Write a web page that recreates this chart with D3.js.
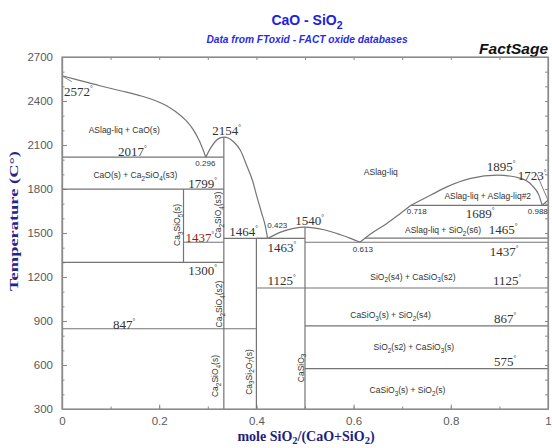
<!DOCTYPE html>
<html>
<head>
<meta charset="utf-8">
<script src="https://cdn.jsdelivr.net/npm/d3@7"></script>
<style>
  body { margin: 0; background: #fff; }
  svg { display: block; }
</style>
</head>
<body>
<svg id="chart" width="552" height="448"></svg>
<script>
// ---- axis ticks -------------------------------------------------------
const xTicks = [0, 0.2, 0.4, 0.6, 0.8, 1];
const xTickLabels = ["0", "0.2", "0.4", "0.6", "0.8", "1"];
const yTicks = [300, 600, 900, 1200, 1500, 1800, 2100, 2400, 2700];
const yTickLabels = ["300", "600", "900", "1200", "1500", "1800", "2100", "2400", "2700"];

// ---- liquidus curves, [mole fraction SiO2, T in C] ------------------
const liqCaO = [[0, 2572], [0.03, 2546], [0.078, 2504], [0.12, 2470], [0.16, 2437],
  [0.19, 2405], [0.215, 2368], [0.235, 2325], [0.255, 2268], [0.27, 2205],
  [0.283, 2125], [0.296, 2017]];
const liqC2S = [[0.296, 2017], [0.305, 2075], [0.315, 2122], [0.325, 2149], [0.334, 2154],
  [0.342, 2148], [0.353, 2122], [0.367, 2064], [0.381, 1952], [0.392, 1858],
  [0.401, 1748], [0.41, 1645], [0.4186, 1543], [0.423, 1463]];
const liqCS = [[0.423, 1463], [0.45, 1506], [0.477, 1532], [0.5, 1540], [0.539, 1522],
  [0.573, 1488], [0.595, 1462], [0.613, 1437]];
const liqSiO2 = [[0.613, 1437], [0.64, 1505], [0.669, 1566], [0.695, 1630], [0.718, 1689]];
const gapDome = [[0.718, 1689], [0.759, 1759], [0.793, 1816], [0.841, 1872], [0.896, 1895],
  [0.944, 1872], [0.968, 1822], [0.981, 1760], [0.988, 1689]];
const liqCristobalite = [[0.988, 1689], [1, 1723]];

// ---- invariant and transition isotherms: [x from, x to, T] ----------
const isotherms = [
  [0, 0.333, 2017], [0, 0.333, 1799], [0.25, 0.333, 1437], [0, 0.333, 1300],
  [0, 0.4, 847], [0.333, 0.423, 1464], [0.4, 0.5, 1463], [0.4, 1, 1125],
  [0.5, 1, 1437], [0.623, 1, 1465], [0.718, 1, 1689], [0.5, 1, 867], [0.5, 1, 575]
];

// ---- stoichiometric compounds: [x, T top, T bottom] -----------------
const compounds = [[0.25, 1799, 1300], [0.333, 2154, 300], [0.4, 1464, 300], [0.5, 1540, 300]];

// ---- leader lines from labels to points --------------------------------
const leaders = [[[0, 2572], [0.02, 2532]], [[0.977, 1900], [1, 1723]]];

// ---- temperature labels: [text, x, T, colour] -----------------------
const tempLabels = [
  ["2572", 0.004, 2434], ["2154", 0.309, 2168], ["2017", 0.115, 2025],
  ["1799", 0.26, 1807], ["1437", 0.254, 1439, "#8b1e1e"], ["1300", 0.26, 1214],
  ["1464", 0.344, 1480], ["1540", 0.48, 1555], ["1463", 0.423, 1370],
  ["1125", 0.423, 1145], ["847", 0.105, 845], ["1895", 0.874, 1923],
  ["1723", 0.938, 1861], ["1689", 0.831, 1602], ["1465", 0.878, 1493],
  ["1437", 0.88, 1343], ["1125", 0.887, 1145], ["867", 0.889, 886], ["575", 0.889, 593]
];

// ---- composition labels at invariant points -------------------------
const compLabels = [
  ["0.296", 0.295, 1957], ["0.423", 0.443, 1534], ["0.613", 0.619, 1370],
  ["0.718", 0.73, 1630], ["0.988", 0.979, 1630]
];

// ---- phase field labels ("_n" marks a subscript) ----------------------
const phaseLabels = [
  ["ASlag-liq + CaO(s)", 0.128, 2182],
  ["CaO(s) + Ca_2SiO_4(s3)", 0.151, 1875],
  ["ASlag-liq", 0.656, 1895],
  ["ASlag-liq + ASlag-liq#2", 0.876, 1732],
  ["ASlag-liq + SiO_2(s6)", 0.784, 1500],
  ["SiO_2(s4) + CaSiO_3(s2)", 0.722, 1180],
  ["CaSiO_3(s) + SiO_2(s4)", 0.676, 920],
  ["SiO_2(s2) + CaSiO_3(s)", 0.724, 702],
  ["CaSiO_3(s) + SiO_2(s)", 0.711, 409]
];

// ---- vertical compound labels -----------------------------------------
const compoundLabels = [
  ["Ca_3SiO_5(s)", 0.237, 1555], ["Ca_2SiO_4(s3)", 0.322, 1623],
  ["Ca_2SiO_4(s2)", 0.324, 1016], ["Ca_2SiO_4(s)", 0.315, 525],
  ["Ca_3Si_2O_7(s)", 0.384, 552], ["CaSiO_3", 0.491, 580]
];

// ---------------------------------------------------------------------
const M = { left: 62, right: 548, top: 57, bottom: 409 };
const x = d3.scaleLinear().domain([0, 1]).range([M.left, M.right]);
const y = d3.scaleLinear().domain([300, 2700]).range([M.bottom, M.top]);
const svg = d3.select("#chart");

const LINE = "#747474", FRAME = "#8a8a8a";
const SANS = "Arial, 'Liberation Sans', sans-serif";
const SERIF = "'Times New Roman', 'Liberation Serif', serif";

// text with "_n" subscripts
function richText(sel, str, size, shift = 0.3) {
  const parts = str.split(/(_\d)/).filter(s => s.length);
  let sub = false;
  parts.forEach(p => {
    if (p[0] === "_") {
      sel.append("tspan").attr("dy", size * shift).attr("font-size", size * 0.75).text(p.slice(1));
      sub = true;
    } else {
      const t = sel.append("tspan").text(p);
      if (sub) { t.attr("dy", -size * shift); sub = false; }
    }
  });
}

// titles
const title = svg.append("text").attr("x", 307).attr("y", 25).attr("text-anchor", "middle")
  .attr("font-family", SANS).attr("font-weight", "bold").attr("font-size", 14).attr("fill", "#2020e0");
richText(title, "CaO - SiO_2", 14);
svg.append("text").attr("x", 307).attr("y", 43).attr("text-anchor", "middle")
  .attr("font-family", SANS).attr("font-weight", "bold").attr("font-style", "italic")
  .attr("font-size", 10.2).attr("fill", "#2a2ae8").text("Data from FToxid - FACT oxide databases");
svg.append("text").attr("x", 548).attr("y", 54).attr("text-anchor", "end")
  .attr("font-family", SANS).attr("font-weight", "bold").attr("font-style", "italic")
  .attr("font-size", 15.5).attr("fill", "#111").text("FactSage");

// axes (ticks drawn inward on all four sides)
function styleAxis(g) {
  g.select(".domain").attr("stroke", FRAME).attr("stroke-width", 1.2);
  g.selectAll(".tick line").attr("stroke", FRAME);
  g.selectAll(".tick text").attr("font-family", SANS).attr("font-size", 11.5).attr("fill", "#5a5a5a");
}
const minorX = d3.range(0, 1.0001, 0.1);
const minorY = d3.range(300, 2701, 100);

svg.append("g").attr("transform", `translate(0,${M.bottom})`)
  .call(d3.axisBottom(x).tickValues(minorX).tickSize(-2.5).tickSizeOuter(0).tickFormat(""))
  .call(styleAxis);
svg.append("g").attr("transform", `translate(0,${M.bottom})`)
  .call(d3.axisBottom(x).tickValues(xTicks).tickSize(-4.5).tickSizeOuter(0).tickPadding(8)
    .tickFormat((d, i) => xTickLabels[i]))
  .call(styleAxis);
svg.append("g").attr("transform", `translate(0,${M.top})`)
  .call(d3.axisTop(x).tickValues(minorX).tickSize(-3).tickSizeOuter(0).tickFormat(""))
  .call(styleAxis);
svg.append("g").attr("transform", `translate(${M.left},0)`)
  .call(d3.axisLeft(y).tickValues(minorY).tickSize(-2.5).tickSizeOuter(0).tickFormat(""))
  .call(styleAxis);
svg.append("g").attr("transform", `translate(${M.left},0)`)
  .call(d3.axisLeft(y).tickValues(yTicks).tickSize(-5).tickSizeOuter(0).tickPadding(9)
    .tickFormat((d, i) => yTickLabels[i]))
  .call(styleAxis);
svg.append("g").attr("transform", `translate(${M.right},0)`)
  .call(d3.axisRight(y).tickValues(minorY).tickSize(-3).tickSizeOuter(0).tickFormat(""))
  .call(styleAxis);

// axis titles
svg.append("text").attr("transform", "translate(18,221) rotate(-90)").attr("text-anchor", "middle")
  .attr("font-family", SERIF).attr("font-weight", "bold").attr("font-size", 12.5)
  .attr("fill", "#26268a").attr("textLength", 140).attr("lengthAdjust", "spacingAndGlyphs")
  .text("Temperature (C\u00b0)");
const xt = svg.append("text").attr("x", 306).attr("y", 441).attr("text-anchor", "middle")
  .attr("font-family", SERIF).attr("font-weight", "bold").attr("font-size", 14).attr("fill", "#1e1e80");
richText(xt, "mole SiO_2/(CaO+SiO_2)", 14, 0.2);

// phase boundaries
const plot = svg.append("g").attr("fill", "none").attr("stroke", LINE).attr("stroke-width", 1.2);
const smooth = d3.line().x(d => x(d[0])).y(d => y(d[1])).curve(d3.curveMonotoneX);
const straight = d3.line().x(d => x(d[0])).y(d => y(d[1]));
[liqCaO, liqC2S, liqCS, liqSiO2, gapDome].forEach(c => plot.append("path").attr("d", smooth(c)));
plot.append("path").attr("d", straight(liqCristobalite));
isotherms.forEach(([a, b, t]) => plot.append("line")
  .attr("x1", x(a)).attr("x2", x(b)).attr("y1", y(t)).attr("y2", y(t)));
compounds.forEach(([c, t1, t2]) => plot.append("line")
  .attr("x1", x(c)).attr("x2", x(c)).attr("y1", y(t1)).attr("y2", y(t2)));
leaders.forEach(l => plot.append("path").attr("d", straight(l)).attr("stroke-width", 0.9));

// frame on top
svg.append("rect").attr("x", M.left).attr("y", M.top).attr("width", M.right - M.left)
  .attr("height", M.bottom - M.top).attr("fill", "none").attr("stroke", FRAME).attr("stroke-width", 1.2);

// temperature labels with degree mark
tempLabels.forEach(([txt, cx, t, col]) => {
  const el = svg.append("text").attr("x", x(cx)).attr("y", y(t))
    .attr("font-family", SERIF).attr("font-size", 13).attr("fill", col || "#333");
  el.append("tspan").text(txt);
  el.append("tspan").attr("dy", -6).attr("font-size", 7).text("\u00b0");
});

// composition labels
compLabels.forEach(([txt, cx, t]) => svg.append("text").attr("x", x(cx)).attr("y", y(t))
  .attr("text-anchor", "middle").attr("font-family", SANS).attr("font-size", 8).attr("fill", "#333").text(txt));

// phase field labels
phaseLabels.forEach(([txt, cx, t]) => {
  const el = svg.append("text").attr("x", x(cx)).attr("y", y(t)).attr("text-anchor", "middle")
    .attr("font-family", SANS).attr("font-size", 8.5).attr("fill", "#333");
  richText(el, txt, 8.5);
});

// vertical compound labels
compoundLabels.forEach(([txt, cx, t]) => {
  const el = svg.append("text")
    .attr("transform", `translate(${x(cx)},${y(t)}) rotate(-90)`)
    .attr("text-anchor", "middle").attr("dy", "0.35em")
    .attr("font-family", SANS).attr("font-size", 8.5).attr("fill", "#333");
  richText(el, txt, 8.5);
});
</script>
</body>
</html>
